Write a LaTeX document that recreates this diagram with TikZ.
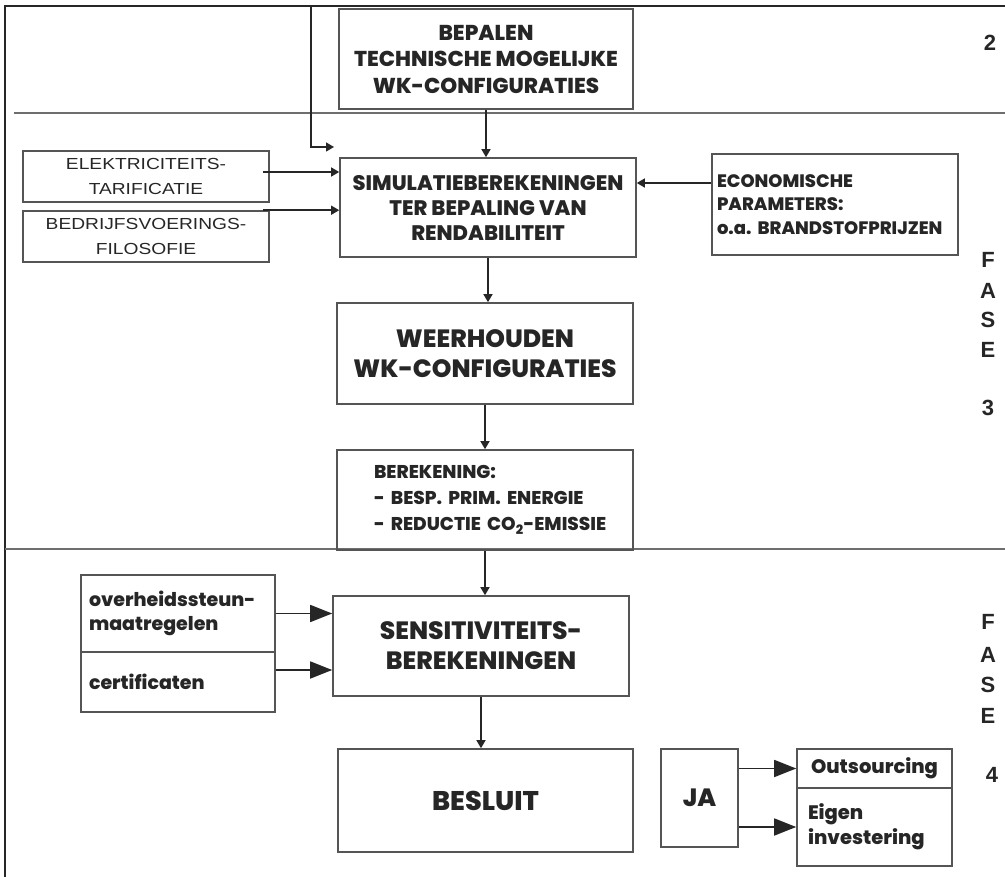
\documentclass[tikz,border=0pt]{standalone}
\usepackage{fontspec}
\setmainfont{Poppins}[BoldFont={Poppins ExtraBold}]
\newfontfamily\arialf{Liberation Sans}
\newfontfamily\arialwide{Liberation Sans}[FakeStretch=1.2]
\usetikzlibrary{arrows.meta,calc}
\definecolor{ink}{HTML}{262626}
\definecolor{edge}{HTML}{555555}
\definecolor{rule}{HTML}{6E6E6E}
\frenchspacing

\begin{document}
\begin{tikzpicture}[x=1pt,y=-1pt,
  box/.style={draw=edge,line width=1.6pt,inner sep=0pt,align=center,text=ink,font=\bfseries},
  thin/.style={draw=ink,line width=1.4pt,-{Triangle[length=8pt,width=9pt]}},
  big/.style={draw=ink,line width=1.6pt,-{Triangle[length=22pt,width=17pt]}},
  phase/.style={text=ink,font=\arialf\bfseries\fontsize{22}{22}\selectfont,inner sep=0pt}
]
\useasboundingbox (0,0) rectangle (1005,877);

% frame and phase separators
\draw[ink,line width=1.8pt] (1005,6) -- (5,6) -- (5,877);
\draw[rule,line width=2.2pt] (14,113) -- (1005,113);
\draw[rule,line width=2.2pt] (5,549) -- (1005,549);

% phase labels
\node[phase] (p2) at (990,43) {2};
\node[phase] (f3a) at (988,260) {F};
\node[phase] (f3b) at (988,291) {A};
\node[phase] (f3c) at (988,320) {S};
\node[phase] (f3d) at (988,350) {E};
\node[phase] (f3n) at (988,408) {3};
\node[phase] (f4a) at (988,622) {F};
\node[phase] (f4b) at (988,655) {A};
\node[phase] (f4c) at (988,685) {S};
\node[phase] (f4d) at (988,716) {E};
\node[phase] (f4n) at (992,775) {4};

% phase 2
\node[box,minimum width=294pt,minimum height=100pt,font=\bfseries\fontsize{21.5}{26.5}\selectfont] (bep) at (486,59)
  {BEPALEN\\TECHNISCHE MOGELIJKE\\WK-CONFIGURATIES};

% phase 3
\node[box,minimum width=296pt,minimum height=99pt,font=\bfseries\fontsize{21}{25}\selectfont] (sim) at (488,207.5)
  {SIMULATIEBEREKENINGEN\\TER BEPALING VAN\\RENDABILITEIT};
\node[box,minimum width=246pt,minimum height=51pt,font=\arialwide\fontsize{16}{25}\selectfont] (elek) at (146,176.5)
  {ELEKTRICITEITS-\\TARIFICATIE};
\node[box,minimum width=246pt,minimum height=51pt,font=\arialwide\fontsize{16}{25}\selectfont] (bedr) at (146,236.5)
  {BEDRIJFSVOERINGS-\\FILOSOFIE};
\node[box,minimum width=246pt,minimum height=101pt,align=left,text width=236pt,font=\bfseries\fontsize{18}{23.5}\selectfont] (eco) at (835,204.5)
  {ECONOMISCHE\\PARAMETERS:\\o.a. BRANDSTOFPRIJZEN};
\node[box,minimum width=296pt,minimum height=101pt,font=\bfseries\fontsize{25}{30}\selectfont] (weer) at (485,353.5)
  {WEERHOUDEN\\WK-CONFIGURATIES};
\node[box,minimum width=296pt,minimum height=100pt,align=left,text width=222pt,font=\bfseries\fontsize{18.5}{26}\selectfont] (ber) at (485,500)
  {BEREKENING:\\\mbox{- BESP. PRIM. ENERGIE}\\\mbox{- REDUCTIE CO\textsubscript{2}-EMISSIE}};

% phase 4
\node[box,minimum width=194pt,minimum height=77pt,align=left,text width=178pt,font=\bfseries\fontsize{19}{24}\selectfont] (over) at (178,613.5)
  {\mbox{overheidssteun-}\\maatregelen};
\node[box,minimum width=194pt,minimum height=60pt,align=left,text width=178pt,font=\bfseries\fontsize{19}{24}\selectfont] (cert) at (178,682)
  {certificaten};
\node[box,minimum width=296pt,minimum height=100pt,font=\bfseries\fontsize{25}{30}\selectfont] (sens) at (481,646)
  {SENSITIVITEITS-\\BEREKENINGEN};
\node[box,minimum width=295pt,minimum height=103pt,font=\bfseries\fontsize{27}{30}\selectfont] (bes) at (485.5,800.5)
  {BESLUIT};
\node[box,minimum width=77pt,minimum height=98pt,font=\bfseries\fontsize{25}{30}\selectfont] (ja) at (699.5,798)
  {JA};
\node[box,minimum width=155pt,minimum height=39pt,font=\bfseries\fontsize{19.5}{24}\selectfont] (out) at (874.5,768.5)
  {Outsourcing};
\node[box,minimum width=155pt,minimum height=78pt,align=left,text width=133pt,font=\bfseries\fontsize{19.5}{25}\selectfont] (eig) at (874.5,827)
  {Eigen\\investering};

% connectors, phase 3
\coordinate (feedtop) at (311,6);
\coordinate (feedend) at (334,147);
\draw[thin] (feedtop) |- (feedend);
\draw[thin] (bep.south) -- (bep.south |- sim.north);
\coordinate (elekout) at ([xshift=-7pt,yshift=4.5pt]elek.east);
\draw[thin] (elekout) -- (elekout -| sim.west);
\coordinate (bedrout) at ([xshift=-7pt]bedr.north east);
\draw[thin] (bedrout) -- (bedrout -| sim.west);
\coordinate (ecoout) at ([yshift=21.5pt]eco.west);
\draw[thin] (ecoout) -- (ecoout -| sim.east);
\draw[thin] (sim.south) -- (sim.south |- weer.north);
\draw[thin] (weer.south) -- (weer.south |- ber.north);
\draw[thin] (ber.south) -- (ber.south |- sens.north);

% connectors, phase 4
\draw[big] (over.east) -- (over.east -| sens.west);
\coordinate (certout) at ([yshift=12pt]cert.east);
\draw[big] (certout) -- (certout -| sens.west);
\draw[thin] (sens.south) -- (sens.south |- bes.north);
\draw[big] (out.west -| ja.east) -- (out.west);
\draw[big] (eig.west -| ja.east) -- (eig.west);
\end{tikzpicture}
\end{document}
